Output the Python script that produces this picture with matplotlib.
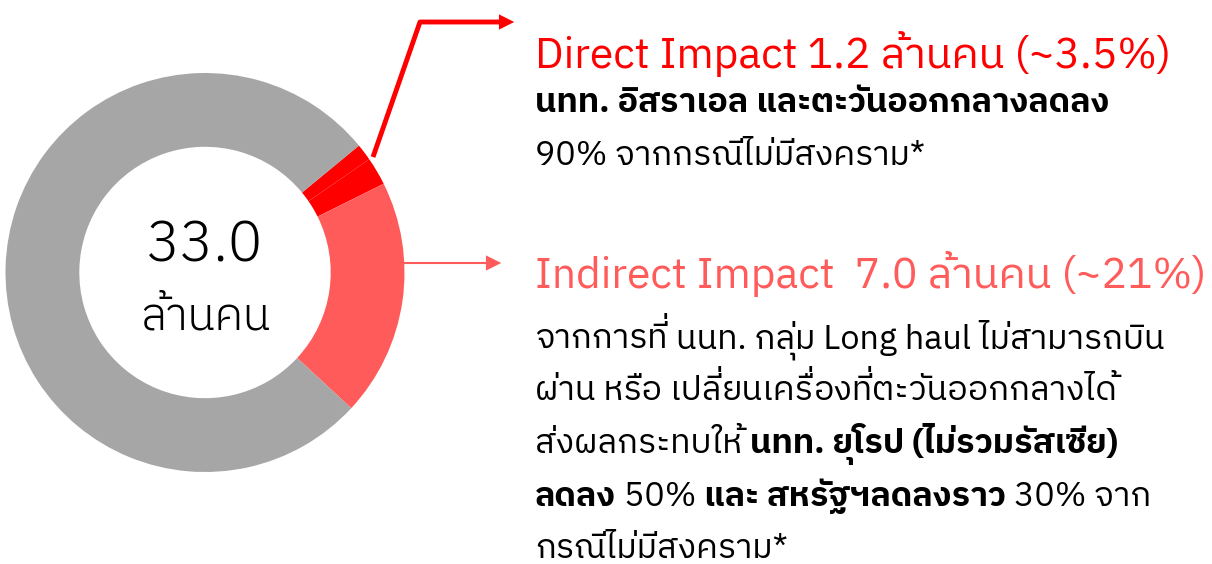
import matplotlib
matplotlib.use("Agg")
import matplotlib.pyplot as plt

# ---- data (million people) ----
segments = ["direct_a", "direct_b", "indirect", "rest"]
values_mn = [0.45, 0.75, 6.35, 25.45]
seg_colors = ["#FF0000", "#FF0000", "#FF5B5B", "#A6A6A6"]
total_label = "33.0"
unit_label = "ล้านคน"

direct_title = "Direct Impact 1.2 ล้านคน (~3.5%)"
direct_lines = [
    [("นทท. อิสราเอล และตะวันออกกลางลดลง", "bold")],
    [("90% จากกรณีไม่มีสงคราม*", "normal")],
]
indirect_title = "Indirect Impact  7.0 ล้านคน (~21%)"
indirect_lines = [
    [("จากการที่ นนท. กลุ่ม Long haul ไม่สามารถบิน", "normal")],
    [("ผ่าน หรือ เปลี่ยนเครื่องที่ตะวันออกกลางได้", "normal")],
    [("ส่งผลกระทบให้ ", "normal"), ("นทท. ยุโรป (ไม่รวมรัสเซีย)", "bold")],
    [("ลดลง", "bold"), (" 50% ", "normal"), ("และ สหรัฐฯลดลงราว", "bold"), (" 30% จาก", "normal")],
    [("กรณีไม่มีสงคราม*", "normal")],
]

plt.rcParams["font.family"] = ["IBM Plex Sans Thai", "DejaVu Sans"]

UPPER = set("\u0e31\u0e34\u0e35\u0e36\u0e37")
TONE = set("\u0e48\u0e49\u0e4a\u0e4b")

W, H = 1212, 564
fig = plt.figure(figsize=(W / 100, H / 100), dpi=100)

# donut
cx, cy, r = 205, 272.5, 199.5
ax = fig.add_axes([(cx - r) / W, (H - cy - r) / H, 2 * r / W, 2 * r / H])
ax.pie(values_mn, colors=seg_colors, startangle=39.5, counterclock=False,
       radius=1, wedgeprops=dict(width=0.37, edgecolor="none"))
ax.set_xlim(-1, 1); ax.set_ylim(-1, 1); ax.set_aspect("equal"); ax.axis("off")

# overlay in pixel coords
ov = fig.add_axes([0, 0, 1, 1])
ov.set_xlim(0, W); ov.set_ylim(H, 0); ov.axis("off")
renderer = fig.canvas.get_renderer()


def split_marks(txt):
    """no mark stacking in matplotlib: pull tone marks that sit on an upper vowel out so they can be raised"""
    out, buf = [], ""
    for i, ch in enumerate(txt):
        if ch in TONE and i > 0 and txt[i - 1] in UPPER:
            out.append((buf, False)); out.append((ch, True)); buf = ""
        else:
            buf += ch
    if buf:
        out.append((buf, False))
    return out


def draw_runs(x, y, runs, size, color="black", ha="left", draw=True):
    x0 = x
    if ha == "center":
        x -= draw_runs(x, y, runs, size, draw=False) / 2
    for txt, wt in runs:
        for seg, raised in split_marks(txt):
            if raised:
                if draw:
                    ov.text(x - 1, y - 0.2 * size * 100 / 72, seg, fontsize=size, color=color,
                            ha="right", va="baseline", fontweight=wt)
                continue
            t = ov.text(x, y, seg, fontsize=size, color=color, ha="left", va="baseline", fontweight=wt)
            x += t.get_window_extent(renderer).width
            if not draw:
                t.remove()
    return x - x0


def fit(runs, target, base=20):
    return base * target / draw_runs(0, 0, runs, base, draw=False)


# center label
tot = [(total_label, 300)]
unit = [(unit_label, 300)]
draw_runs(cx, 262, tot, fit(tot, 117), ha="center")
draw_runs(cx, 330, unit, fit(unit, 130), ha="center")

# arrows
ov.plot([373, 420, 505], [157, 22, 22], color="#FF0000", lw=3.5, solid_capstyle="butt")
ov.annotate("", xy=(517, 22), xytext=(500, 22),
            arrowprops=dict(arrowstyle="-|>,head_length=1.1,head_width=0.55", color="#FF0000", lw=0))
ov.plot([403, 492], [263, 263], color="#FF5B5B", lw=1.5)
ov.annotate("", xy=(504, 263), xytext=(488, 263),
            arrowprops=dict(arrowstyle="-|>,head_length=1.1,head_width=0.55", color="#FF5B5B", lw=0))

X0 = 535
title_size = fit([(indirect_title, "normal")], 672)
body_size = fit(indirect_lines[0], 630)

draw_runs(X0, 68, [(direct_title, "normal")], title_size, "#FF0000")
for i, runs in enumerate(direct_lines):
    draw_runs(X0, 112 + i * 53, runs, body_size)
draw_runs(X0, 288, [(indirect_title, "normal")], title_size, "#FF5B5B")
for i, runs in enumerate(indirect_lines):
    draw_runs(X0, 348 + i * 52.5, runs, body_size)

fig.savefig("out.png", dpi=100)
